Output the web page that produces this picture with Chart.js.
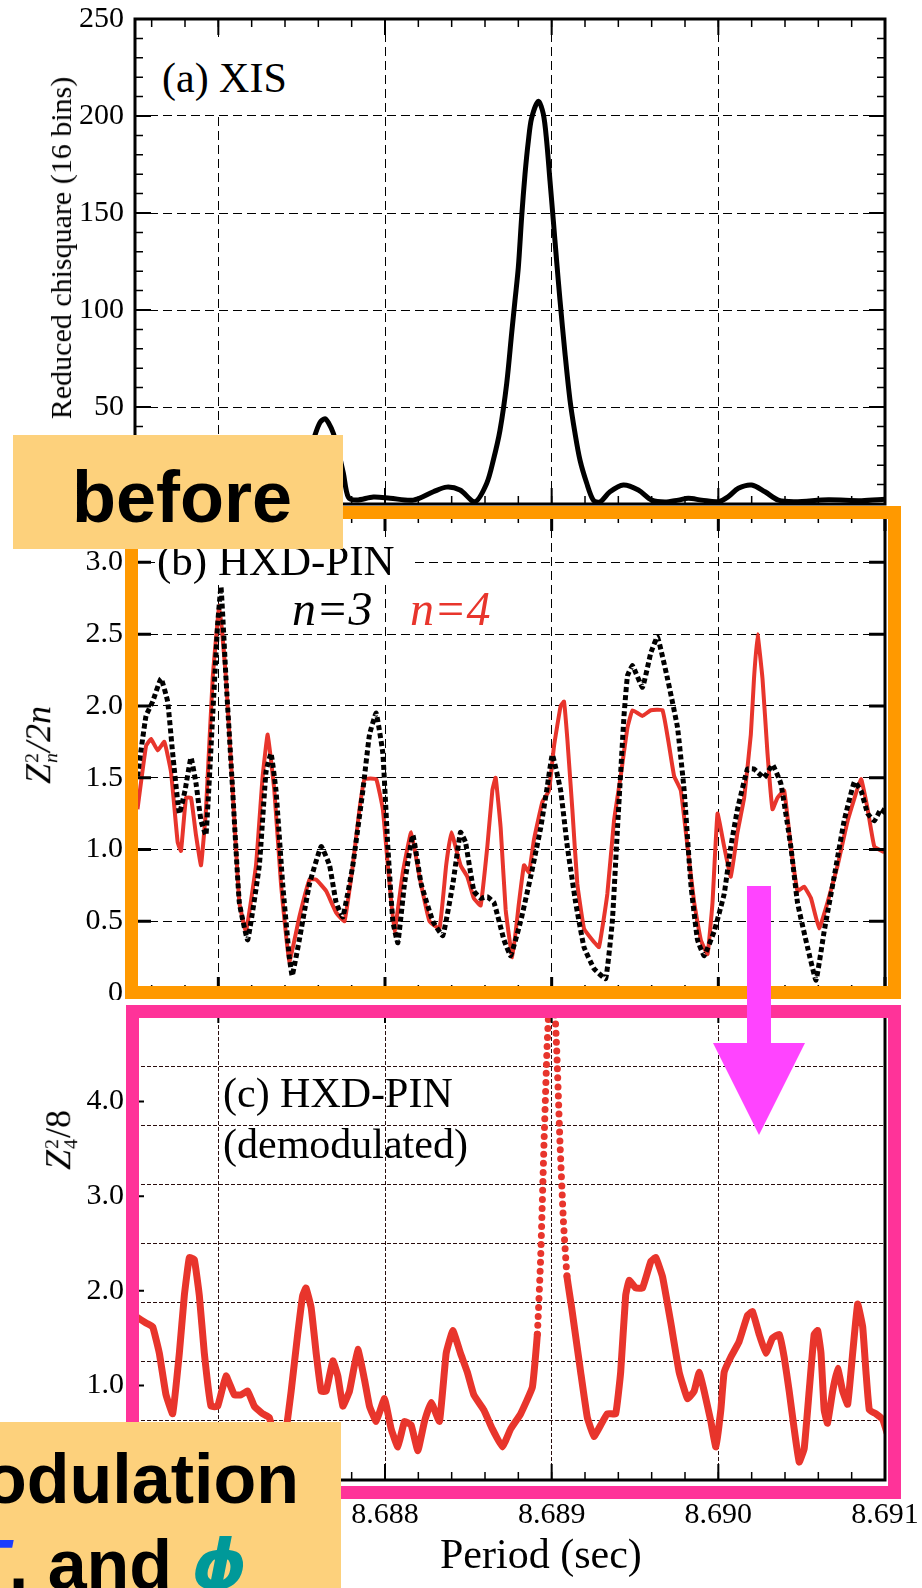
<!DOCTYPE html>
<html lang="en">
<head>
<meta charset="utf-8">
<title>Period search</title>
<script src="https://cdn.jsdelivr.net/npm/chart.js@4.4.1/dist/chart.umd.min.js"></script>
<style>
  html, body { margin: 0; padding: 0; background: #fff; }
  #page { position: relative; width: 922px; height: 1588px; overflow: hidden; background: #fff;
          font-family: "Liberation Serif", "Times New Roman", serif; color: #000; }
  #page canvas { position: absolute; left: 0; }
  .lbl { position: absolute; white-space: nowrap; line-height: 1; }
  .mask { position: absolute; background: #fff; }
  .ytitle { position: absolute; white-space: nowrap; line-height: 1;
            transform: translate(-50%, -50%) rotate(-90deg); }
  .stk { display: inline-flex; flex-direction: column; font-size: 0.55em; line-height: 0.95;
         margin: 0 0.05em; font-style: normal; }
  .frame { position: absolute; box-sizing: border-box; }
  .note { position: absolute; background: #fdd17c; }
  .bold { position: absolute; white-space: nowrap; line-height: 1;
          font-family: "Liberation Sans", Arial, sans-serif; font-weight: bold; }
</style>
</head>
<body>
<div id="page">
  <canvas id="xis" width="922" height="520" style="top:0"></canvas>
  <canvas id="pin" width="922" height="500" style="top:500px"></canvas>
  <canvas id="demod" width="922" height="588" style="top:1000px"></canvas>

  <!-- panel labels -->
  <div class="mask" style="left:146px; top:37px; width:160px; height:75px"></div>
  <div class="lbl" style="left:162px; top:57px; font-size:42px">(a) XIS</div>
  <div class="ytitle" style="left:61px; top:248px; font-size:30px">Reduced chisquare (16 bins)</div>

  <div class="mask" style="left:155px; top:537px; width:255px; height:45px"></div>
  <div class="lbl" style="left:157px; top:539px; font-size:43px">(b) HXD-PIN</div>
  <div class="lbl" style="left:292px; top:585px; font-size:48px; font-style:italic">n=3</div>
  <div class="lbl" style="left:410px; top:585px; font-size:48px; font-style:italic; color:#e8352c">n=4</div>
  <div class="ytitle" style="left:40px; top:745px; font-size:36px"><i>Z</i><span class="stk" style="vertical-align:12px"><span>2</span><span><i>n</i></span></span><i>/2n</i></div>

  <div class="lbl" style="left:223px; top:1072px; font-size:42px">(c) HXD-PIN</div>
  <div class="lbl" style="left:223px; top:1123px; font-size:42px">(demodulated)</div>
  <div class="ytitle" style="left:60px; top:1140px; font-size:36px"><i>Z</i><span class="stk" style="vertical-align:12px"><span>2</span><span>4</span></span>/8</div>

  <div class="lbl" style="left:440px; top:1533px; font-size:42px">Period (sec)</div>

  <!-- highlight frames -->
  <div class="frame" style="left:125px; top:506px; width:776px; height:493px; border:13px solid #ff9900"></div>
  <div class="frame" style="left:126px; top:1005px; width:775px; height:494px; border:13px solid #ff3399"></div>

  <svg style="position:absolute; left:700px; top:880px" width="120" height="260">
    <rect x="47" y="6" width="24" height="158" fill="#ff44ff"/>
    <polygon points="13,163 105,163 59,255" fill="#ff44ff"/>
  </svg>

  <div class="note" style="left:13px; top:435px; width:330px; height:114px"></div>
  <div class="bold" style="left:72px; top:461px; font-size:72px">before</div>

  <div class="note" style="left:0; top:1422px; width:341px; height:166px"></div>
  <div class="bold" style="right:623px; top:1444px; font-size:70px">Demodulation</div>
  <div class="bold" style="left:-34px; top:1530px; font-size:70px"><i style="color:#1a3cff">T</i>, and <i style="color:#009999; font-family:'DejaVu Sans', sans-serif">&#x3D5;</i></div>
</div>

<script>
// period axis shared by the three panels (sec)
const periodMin = 8.6865;
const periodMax = 8.691;
const periodTicks = [8.687, 8.688, 8.689, 8.690, 8.691];

// (a) XIS reduced chi-square (16 bins)
const xisPeriod = [8.68650, 8.68660, 8.68672, 8.68685, 8.68697, 8.68710, 8.68722, 8.68735, 8.68743, 8.68749,
  8.68754, 8.68758, 8.68761, 8.68764, 8.68766, 8.68769, 8.68772, 8.68775, 8.68778, 8.68783,
  8.68793, 8.68803, 8.68817, 8.68829, 8.68837, 8.68845, 8.68854, 8.68861, 8.68865, 8.68869,
  8.68873, 8.68876, 8.68878, 8.68880, 8.68882, 8.68884, 8.68886, 8.68888, 8.68892, 8.68895,
  8.68897, 8.68899, 8.68901, 8.68903, 8.68905, 8.68908, 8.68911, 8.68914, 8.68917, 8.68921,
  8.68925, 8.68929, 8.68935, 8.68943, 8.68952, 8.68960, 8.68968, 8.68976, 8.68982, 8.68990,
  8.69000, 8.69006, 8.69012, 8.69020, 8.69028, 8.69036, 8.69046, 8.69066, 8.69086, 8.69100];
const xisChi = [3.0, 4.5, 2.0, 5.5, 2.5, 3.5, 7.0, 3.0, 4.0, 10,
  24, 35.5, 42, 44, 42, 36.5, 27, 16, 3.5, 2.0,
  3.6, 3.0, 2.0, 6.3, 8.7, 7.2, 1.2, 10.6, 22.6, 38,
  62, 88, 105, 122, 148, 170, 187, 199, 207.6, 201,
  187, 166.5, 146, 125, 105, 77.6, 53.5, 36.5, 22.6, 10.8,
  2.0, 1.0, 6.3, 9.8, 7.2, 2.0, 1.0, 2.0, 2.9, 2.0,
  1.2, 3.8, 8.1, 9.8, 6.3, 2.0, 1.2, 2.2, 1.7, 2.4];
const xisTicks = [0, 50, 100, 150, 200, 250];

// (b) HXD-PIN Z^2_n/2n, n=3
const pinPeriod3 = [8.686515, 8.686566, 8.686606, 8.686656, 8.686696, 8.686726, 8.686766, 8.686800, 8.686836, 8.686866,
  8.686896, 8.686926, 8.686966, 8.686996, 8.687016, 8.687046, 8.687086, 8.687126, 8.687176, 8.687246,
  8.687286, 8.687316, 8.687346, 8.687386, 8.687426, 8.687443, 8.687486, 8.687547, 8.687617, 8.687667,
  8.687707, 8.687747, 8.687807, 8.687867, 8.687907, 8.687947, 8.687987, 8.688017, 8.688047, 8.688077,
  8.688117, 8.688167, 8.688217, 8.688287, 8.688347, 8.688407, 8.688453, 8.688483, 8.688533, 8.688574,
  8.688614, 8.688654, 8.688714, 8.688754, 8.688814, 8.688874, 8.688934, 8.688974, 8.689004, 8.689054,
  8.689094, 8.689144, 8.689194, 8.689254, 8.689324, 8.689364, 8.689395, 8.689434, 8.689455, 8.689485,
  8.689545, 8.689595, 8.689635, 8.689695, 8.689755, 8.689795, 8.689835, 8.689875, 8.689915, 8.689975,
  8.690035, 8.690075, 8.690115, 8.690175, 8.690214, 8.690275, 8.690325, 8.690375, 8.690435, 8.690475,
  8.690535, 8.690586, 8.690635, 8.690695, 8.690755, 8.690816, 8.690856, 8.690896, 8.690936, 8.690976, 8.691006];
const pinZ3 = [1.51, 1.93, 2.03, 2.19, 2.03, 1.67, 1.25, 1.41, 1.64, 1.46,
  1.20, 1.10, 1.93, 2.57, 2.83, 2.19, 1.41, 0.63, 0.37, 0.89,
  1.54, 1.67, 1.41, 0.76, 0.25, 0.12, 0.37, 0.76, 1.02, 0.89,
  0.63, 0.53, 0.89, 1.41, 1.80, 1.95, 1.67, 1.02, 0.50, 0.35,
  0.76, 1.10, 0.76, 0.50, 0.40, 0.76, 1.12, 1.05, 0.71, 0.66,
  0.67, 0.63, 0.37, 0.26, 0.50, 0.81, 1.15, 1.44, 1.66, 1.41,
  1.02, 0.63, 0.32, 0.17, 0.10, 0.50, 1.15, 1.93, 2.21, 2.28,
  2.13, 2.37, 2.48, 2.19, 1.85, 1.41, 0.76, 0.37, 0.26, 0.43,
  0.69, 1.02, 1.28, 1.56, 1.56, 1.50, 1.59, 1.46, 1.02, 0.63,
  0.32, 0.09, 0.43, 0.81, 1.20, 1.47, 1.41, 1.25, 1.20, 1.28, 1.25];

// (b) HXD-PIN, n=4
const pinPeriod4 = [8.686515, 8.686566, 8.686596, 8.686636, 8.686676, 8.686716, 8.686756, 8.686776, 8.686806, 8.686836,
  8.686866, 8.686896, 8.686926, 8.686966, 8.687006, 8.687046, 8.687086, 8.687126, 8.687166, 8.687226,
  8.687266, 8.687296, 8.687336, 8.687376, 8.687426, 8.687486, 8.687547, 8.687587, 8.687647, 8.687707,
  8.687757, 8.687807, 8.687847, 8.687877, 8.687947, 8.687987, 8.688017, 8.688057, 8.688107, 8.688157,
  8.688207, 8.688267, 8.688327, 8.688367, 8.688398, 8.688453, 8.688494, 8.688533, 8.688574, 8.688614,
  8.688644, 8.688664, 8.688694, 8.688724, 8.688764, 8.688804, 8.688834, 8.688864, 8.688894, 8.688944,
  8.688984, 8.689014, 8.689054, 8.689074, 8.689094, 8.689124, 8.689154, 8.689194, 8.689244, 8.689284,
  8.689334, 8.689374, 8.689414, 8.689455, 8.689485, 8.689545, 8.689595, 8.689665, 8.689705, 8.689735,
  8.689775, 8.689815, 8.689855, 8.689895, 8.689935, 8.689965, 8.689995, 8.690035, 8.690075, 8.690115,
  8.690155, 8.690195, 8.690214, 8.690235, 8.690265, 8.690295, 8.690325, 8.690355, 8.690395, 8.690435,
  8.690475, 8.690515, 8.690556, 8.690605, 8.690655, 8.690716, 8.690776, 8.690856, 8.690896, 8.690936, 8.690996];
const pinZ4 = [1.28, 1.72, 1.77, 1.69, 1.75, 1.54, 1.05, 0.99, 1.36, 1.36,
  1.10, 0.89, 1.28, 2.19, 2.70, 2.19, 1.41, 0.63, 0.43, 0.89,
  1.51, 1.80, 1.41, 0.76, 0.22, 0.53, 0.79, 0.79, 0.71, 0.56,
  0.50, 0.89, 1.28, 1.49, 1.49, 1.28, 0.89, 0.43, 0.84, 1.12,
  0.81, 0.50, 0.45, 0.89, 1.12, 0.89, 0.81, 0.66, 0.61, 1.02,
  1.41, 1.50, 1.15, 0.58, 0.25, 0.63, 0.89, 0.84, 1.07, 1.33,
  1.41, 1.72, 2.00, 2.03, 1.77, 1.28, 0.76, 0.45, 0.37, 0.32,
  0.69, 1.20, 1.51, 1.85, 1.97, 1.93, 1.97, 1.97, 1.72, 1.51,
  1.41, 1.02, 0.63, 0.37, 0.27, 0.63, 1.25, 1.02, 0.81, 1.12,
  1.36, 1.80, 2.19, 2.50, 2.19, 1.67, 1.28, 1.36, 1.41, 1.02,
  0.71, 0.74, 0.66, 0.45, 0.63, 0.89, 1.20, 1.49, 1.28, 1.02, 0.98];
const pinTicks = [0, 0.5, 1.0, 1.5, 2.0, 2.5, 3.0];

// (c) HXD-PIN demodulated, Z^2_4/8
const demodPeriod = [8.686512, 8.686566, 8.686606, 8.686646, 8.686686, 8.686726, 8.686766, 8.686796, 8.686826, 8.686856,
  8.686886, 8.686916, 8.686956, 8.686996, 8.687046, 8.687096, 8.687136, 8.687176, 8.687216, 8.687266,
  8.687306, 8.687356, 8.687396, 8.687437, 8.687476, 8.687506, 8.687526, 8.687557, 8.687587, 8.687617,
  8.687647, 8.687687, 8.687717, 8.687747, 8.687787, 8.687837, 8.687877, 8.687907, 8.687947, 8.687997,
  8.688037, 8.688077, 8.688117, 8.688157, 8.688197, 8.688237, 8.688277, 8.688327, 8.688367, 8.688407,
  8.688453, 8.688494, 8.688533, 8.688593, 8.688644, 8.688704, 8.688754, 8.688814, 8.688884, 8.688914,
  8.688934, 8.688954, 8.688972, 8.688990, 8.689012, 8.689030, 8.689050, 8.689070, 8.689092, 8.689120,
  8.689174, 8.689214, 8.689254, 8.689294, 8.689334, 8.689384, 8.689414, 8.689444, 8.689465, 8.689505,
  8.689545, 8.689595, 8.689625, 8.689665, 8.689715, 8.689765, 8.689815, 8.689855, 8.689885, 8.689915,
  8.689955, 8.689985, 8.690015, 8.690035, 8.690075, 8.690124, 8.690175, 8.690205, 8.690245, 8.690285,
  8.690325, 8.690365, 8.690395, 8.690425, 8.690455, 8.690485, 8.690515, 8.690545, 8.690575, 8.690596,
  8.690616, 8.690635, 8.690655, 8.690686, 8.690716, 8.690746, 8.690776, 8.690806, 8.690836, 8.690866,
  8.690886, 8.690906, 8.690946, 8.690986, 8.691012];
const demodZ4 = [1.72, 1.66, 1.62, 1.34, 0.90, 0.70, 1.34, 1.95, 2.35, 2.33,
  1.95, 1.34, 0.78, 0.78, 1.10, 0.90, 0.90, 0.94, 0.78, 0.70,
  0.66, 0.33, 0.41, 0.94, 1.54, 1.95, 2.03, 1.82, 1.34, 0.94,
  0.94, 1.26, 1.10, 0.78, 0.94, 1.38, 1.06, 0.78, 0.62, 0.86,
  0.54, 0.35, 0.62, 0.58, 0.31, 0.62, 0.82, 0.62, 1.34, 1.58,
  1.34, 1.14, 0.90, 0.74, 0.54, 0.35, 0.54, 0.70, 0.98, 1.54,
  2.35, 3.56, 4.56, 5.2, 5.2, 4.56, 3.56, 2.75, 2.15, 1.82,
  1.14, 0.66, 0.46, 0.58, 0.70, 0.70, 1.14, 1.95, 2.11, 2.03,
  2.03, 2.31, 2.35, 2.15, 1.66, 1.14, 0.86, 0.94, 1.14, 0.94,
  0.62, 0.35, 0.74, 1.14, 1.30, 1.46, 1.74, 1.78, 1.54, 1.34,
  1.50, 1.54, 1.30, 0.94, 0.54, 0.19, 0.33, 0.94, 1.54, 1.58,
  1.34, 0.74, 0.60, 0.94, 1.18, 0.94, 0.80, 1.34, 1.86, 1.62,
  1.14, 0.74, 0.70, 0.64, 0.50];
const demodTicks = [0, 1, 2, 3, 4];
const demodGrid = [0.625, 1.25, 1.875, 2.5, 3.125, 3.75, 4.375];

const serif = "'Liberation Serif', 'Times New Roman', serif";
const tickFont = { family: serif, size: 30 };

function pairs(xs, ys) {
  return xs.map((x, i) => ({ x: x, y: ys[i] }));
}

// keep the plot box where the layout padding puts it: no extra room for end labels
function pinBox(s) {
  s.paddingTop = 0;
  s.paddingBottom = 0;
  s.paddingLeft = 0;
  s.paddingRight = 0;
}

// inward tick marks on the frame + heavy box around the plot
function frameTicks(cfg) {
  return {
    id: 'frameTicks',
    afterDatasetsDraw(chart) {
      const ctx = chart.ctx, a = chart.chartArea;
      const xs = chart.scales.x, ys = chart.scales.y;
      const steps = (step, min, max) => {
        const out = [];
        if (!step) return out;
        for (let k = Math.ceil(min / step - 1e-6); k * step <= max + 1e-9; k++) out.push(k * step);
        return out;
      };
      const xMarks = (list, len, w) => {
        ctx.lineWidth = w;
        ctx.beginPath();
        list.forEach(v => {
          const p = xs.getPixelForValue(v);
          if (cfg.xSides.includes('bottom')) { ctx.moveTo(p, a.bottom); ctx.lineTo(p, a.bottom - len); }
          if (cfg.xSides.includes('top')) { ctx.moveTo(p, a.top); ctx.lineTo(p, a.top + len); }
        });
        ctx.stroke();
      };
      const yMarks = (list, len, w) => {
        ctx.lineWidth = w;
        ctx.beginPath();
        list.forEach(v => {
          const p = ys.getPixelForValue(v);
          if (cfg.ySides.includes('left')) { ctx.moveTo(a.left, p); ctx.lineTo(a.left + len, p); }
          if (cfg.ySides.includes('right')) { ctx.moveTo(a.right, p); ctx.lineTo(a.right - len, p); }
        });
        ctx.stroke();
      };
      ctx.save();
      ctx.strokeStyle = '#000';
      ctx.setLineDash([]);
      xMarks(steps(cfg.xMinor, xs.min, xs.max), cfg.minorLen, 1.5);
      xMarks(periodTicks, cfg.majorLen, cfg.majorWidth);
      yMarks(steps(cfg.yMinor, ys.min, ys.max), cfg.minorLen, 1.5);
      yMarks(cfg.yMajor, cfg.yLen || cfg.majorLen, cfg.majorWidth);
      ctx.lineWidth = 3;
      ctx.strokeRect(a.left, a.top, a.right - a.left, a.bottom - a.top);
      ctx.restore();
    }
  };
}

function periodAxis(height, labels, gridColor, dash) {
  return {
    type: 'linear', min: periodMin, max: periodMax,
    afterBuildTicks: s => { s.ticks = periodTicks.map(v => ({ value: v })); },
    afterFit: s => { s.height = height; pinBox(s); },
    grid: { color: gridColor, lineWidth: 1, drawTicks: false },
    border: { display: false, dash: dash },
    ticks: { display: labels, autoSkip: false, maxRotation: 0, padding: 17, color: '#000',
             font: tickFont, callback: v => v.toFixed(3) }
  };
}

function valueAxis(min, max, tickList, fmt, opts) {
  return {
    type: 'linear', position: 'left', min: min, max: max,
    afterBuildTicks: s => { s.ticks = tickList.map(v => ({ value: v })); },
    afterFit: s => { s.width = 135; pinBox(s); },
    grid: { display: opts.grid, color: '#000', lineWidth: 1, drawTicks: false },
    border: { display: false, dash: opts.dash },
    ticks: { autoSkip: false, padding: opts.padding, color: '#000', font: tickFont, callback: fmt }
  };
}

const common = {
  responsive: false,
  animation: false,
  events: [],
  plugins: { legend: { display: false }, tooltip: { enabled: false } },
  elements: { point: { radius: 0 } }
};

// (a) XIS
new Chart(document.getElementById('xis'), {
  type: 'line',
  data: {
    datasets: [{
      data: pairs(xisPeriod, xisChi),
      borderColor: '#000', borderWidth: 5, tension: 0.3, fill: false
    }]
  },
  options: Object.assign({}, common, {
    layout: { padding: { top: 19, right: 37, left: 0, bottom: 0 } },
    scales: {
      x: periodAxis(16, false, '#000', [9, 5]),
      y: valueAxis(0, 250, xisTicks, v => String(v), { grid: true, dash: [9, 5], padding: 11 })
    }
  }),
  plugins: [frameTicks({ xSides: ['top', 'bottom'], ySides: ['left', 'right'], xMinor: 0.0002, yMinor: 10,
                         yMajor: xisTicks, majorLen: 16, minorLen: 8, majorWidth: 2 })]
});

// (b) HXD-PIN, n=3 and n=4
new Chart(document.getElementById('pin'), {
  type: 'line',
  data: {
    datasets: [{
      label: 'n=3',
      data: pairs(pinPeriod3, pinZ3),
      borderColor: '#000', borderWidth: 5, borderDash: [5, 3], tension: 0.1, fill: false
    }, {
      label: 'n=4',
      data: pairs(pinPeriod4, pinZ4),
      borderColor: '#e8352c', borderWidth: 4, tension: 0.1, fill: false
    }]
  },
  options: Object.assign({}, common, {
    layout: { padding: { top: 15, right: 37, left: 0, bottom: 0 } },
    scales: {
      x: periodAxis(7, false, '#000', [9, 5]),
      y: valueAxis(0, 3.33, pinTicks, v => (v === 0 ? '0' : v.toFixed(1)), { grid: true, dash: [9, 5], padding: 12 })
    }
  }),
  plugins: [frameTicks({ xSides: ['top', 'bottom'], ySides: ['left', 'right'], xMinor: 0.0002, yMinor: 0,
                         yMajor: pinTicks, majorLen: 16, minorLen: 8, majorWidth: 3 })]
});

// (c) HXD-PIN demodulated; the steep flanks of the tall peak show as separate dots
new Chart(document.getElementById('demod'), {
  type: 'line',
  data: {
    datasets: [{
      data: pairs(demodPeriod, demodZ4),
      borderColor: '#e8352c', borderWidth: 7, borderCapStyle: 'round', borderJoinStyle: 'round',
      tension: 0.1, fill: false,
      segment: {
        borderDash: ctx => {
          const dx = Math.abs(ctx.p1.x - ctx.p0.x), dy = Math.abs(ctx.p1.y - ctx.p0.y);
          const high = Math.max(ctx.p0.parsed.y, ctx.p1.parsed.y) > 2.1;
          return (high && dy / Math.max(dx, 0.1) > 12) ? [0, 9] : undefined;
        }
      }
    }]
  },
  options: Object.assign({}, common, {
    layout: { padding: { top: 7, right: 37, left: 0, bottom: 0 } },
    scales: {
      x: periodAxis(108, true, '#2a0d0d', [4, 2]),
      y: valueAxis(0, 5.0, demodTicks, v => (v === 0 ? '0' : v.toFixed(1)), { grid: false, dash: [], padding: 11 }),
      yGrid: {
        type: 'linear', position: 'right', min: 0, max: 5.0,
        afterBuildTicks: s => { s.ticks = demodGrid.map(v => ({ value: v })); },
        afterFit: s => { s.width = 0; pinBox(s); },
        grid: { color: '#2a0d0d', lineWidth: 1, drawTicks: false },
        border: { display: false, dash: [4, 2] },
        ticks: { display: false }
      }
    }
  }),
  plugins: [frameTicks({ xSides: ['top', 'bottom'], ySides: ['left'], xMinor: 0.0002, yMinor: 0,
                         yMajor: [1, 2, 3, 4], yLen: 9, majorLen: 16, minorLen: 8, majorWidth: 2 })]
});
</script>
</body>
</html>
